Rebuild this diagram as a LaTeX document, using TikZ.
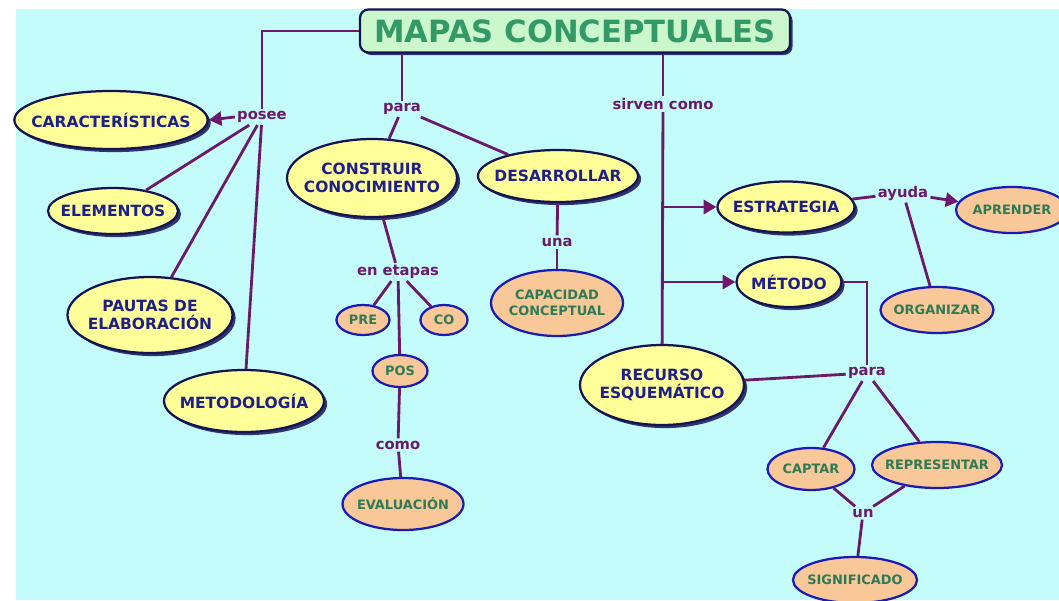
\documentclass[tikz,border=0pt]{standalone}
\usepackage{fontspec}
\setmainfont{DejaVu Sans}
\usepackage{tikz}
\usetikzlibrary{arrows.meta, shapes.geometric, shadows}

\definecolor{fondo}{HTML}{C4FCFC}
\definecolor{verdetitulo}{HTML}{CCF7CC}
\definecolor{textotitulo}{HTML}{339966}
\definecolor{amarillo}{HTML}{FFFF99}
\definecolor{bordeoscuro}{HTML}{141450}
\definecolor{textoazul}{HTML}{1E1E8C}
\definecolor{naranja}{HTML}{F8C898}
\definecolor{bordeazul}{HTML}{1A1AB4}
\definecolor{textoverde}{HTML}{2E7A55}
\definecolor{enlace}{HTML}{6B1A6B}
\definecolor{punta}{HTML}{8B0A7A}
\definecolor{sombra}{HTML}{1E1E64}

\begin{document}
\begin{tikzpicture}[x=0.25mm, y=-0.25mm,
	dim/.style 2 args={minimum width=#1*0.25mm, minimum height=#2*0.25mm},
	concepto/.style={ellipse, draw=bordeoscuro, line width=1.6pt, fill=amarillo, text=textoazul, inner xsep=-8pt, inner ysep=0pt, align=center,
		font=\fontsize{11}{13}\selectfont\bfseries,
		drop shadow={shadow xshift=2.2pt, shadow yshift=-2.2pt, fill=sombra, opacity=.9}},
	hoja/.style={ellipse, draw=bordeazul, line width=1.6pt, fill=naranja, text=textoverde, inner xsep=-5pt, inner ysep=0pt, align=center,
		font=\fontsize{9.2}{11}\selectfont\bfseries},
	palabra/.style={fill=fondo, text=enlace, inner sep=1.5pt, font=\fontsize{10.5}{12}\selectfont\bfseries},
	link/.style={draw=enlace, line width=2pt},
	flecha/.style={link, -{Triangle[length=9pt, width=10pt, fill=punta]}}]
	\clip (0,0) rectangle (1059,600);
	\fill[fondo] (16,9) rectangle (1059,600);

	% titulo
	\node[draw=bordeoscuro, line width=1.6pt, fill=verdetitulo, rounded corners=6pt, dim={430}{43}, text=textotitulo,
		font=\fontsize{21.8}{25}\selectfont\bfseries, drop shadow={shadow xshift=1.8pt, shadow yshift=-1.8pt, fill=sombra, opacity=.9}]
		(titulo) at (575,31) {MAPAS CONCEPTUALES};

	% rama izquierda
	\node[palabra] (posee) at (262,117) {posee};
	\node[concepto, dim={188}{58}] (caract) at (111,120) {CARACTERÍSTICAS};
	\node[concepto, dim={130}{46}] (elementos) at (113,211) {ELEMENTOS};
	\node[concepto, dim={165}{76}] (pautas) at (150,315) {PAUTAS DE\\ELABORACIÓN};
	\node[concepto, dim={160}{62}] (metodologia) at (244,401) {METODOLOGÍA};

	% rama central
	\node[palabra] (para) at (402,109) {para};
	\node[concepto, dim={170}{78}] (construir) at (372,178) {CONSTRUIR\\CONOCIMIENTO};
	\node[concepto, dim={160}{52}] (desarrollar) at (558,176) {DESARROLLAR};
	\node[palabra] (etapas) at (398,272) {en etapas};
	\node[hoja, dim={53}{30}] (pre) at (363,320) {PRE};
	\node[hoja, dim={47}{30}] (co) at (444,320) {CO};
	\node[hoja, dim={55}{32}] (pos) at (400,371) {POS};
	\node[palabra] (como) at (398,445) {como};
	\node[hoja, dim={121}{52}] (evaluacion) at (403,504) {EVALUACIÓN};
	\node[palabra] (una) at (557,242) {una};
	\node[hoja, dim={132}{66}] (capacidad) at (557,303) {CAPACIDAD\\CONCEPTUAL};

	% rama derecha
	\node[palabra] (sirven) at (663,104) {sirven como};
	\node[concepto, dim={137}{51}] (estrategia) at (786,207) {ESTRATEGIA};
	\node[concepto, dim={105}{50}] (metodo) at (789,282) {MÉTODO};
	\node[palabra] (ayuda) at (903,193) {ayuda};
	\node[hoja, dim={112}{46}] (aprender) at (1012,210) {APRENDER};
	\node[hoja, dim={113}{46}] (organizar) at (937,310) {ORGANIZAR};
	\node[concepto, dim={164}{80}] (recurso) at (662,385) {RECURSO\\ESQUEMÁTICO};
	\node[palabra] (parab) at (867,373) {para};
	\node[hoja, dim={87}{42}] (captar) at (811,469) {CAPTAR};
	\node[hoja, dim={130}{46}] (representar) at (937,465) {REPRESENTAR};
	\node[palabra] (un) at (863,513) {un};
	\node[hoja, dim={124}{46}] (significado) at (855,580) {SIGNIFICADO};

	% enlaces
	\draw[link] (titulo.west) -| (posee.north);
	\draw[flecha] (posee.west) -- (caract.east);
	\draw[link] (posee) -- (elementos);
	\draw[link] (posee) -- (pautas);
	\draw[link] (posee) -- (metodologia);
	\draw[link] (para.north |- titulo.south) -- (para);
	\draw[link] (para) -- (construir);
	\draw[link] (para) -- (desarrollar);
	\draw[link] (construir) -- (etapas);
	\draw[link] (etapas) -- (pre);
	\draw[link] (etapas) -- (co);
	\draw[link] (etapas) -- (pos);
	\draw[link] (pos) -- (como);
	\draw[link] (como) -- (evaluacion);
	\draw[link] (desarrollar) -- (una);
	\draw[link] (una) -- (capacidad);
	\draw[link] (sirven.north |- titulo.south) -- (sirven);
	\draw[link] (sirven) -- (recurso);
	\draw[flecha] (sirven.south |- estrategia) -- (estrategia);
	\draw[flecha] (sirven.south |- metodo) -- (metodo);
	\draw[link] (estrategia) -- (ayuda);
	\draw[flecha] (ayuda) -- (aprender);
	\draw[link] (ayuda) -- (organizar);
	\draw[link] (metodo.east) -| (parab.north);
	\draw[link] (recurso) -- (parab);
	\draw[link] (parab) -- (captar);
	\draw[link] (parab) -- (representar);
	\draw[link] (captar) -- (un);
	\draw[link] (representar) -- (un);
	\draw[link] (un) -- (significado);
\end{tikzpicture}
\end{document}
